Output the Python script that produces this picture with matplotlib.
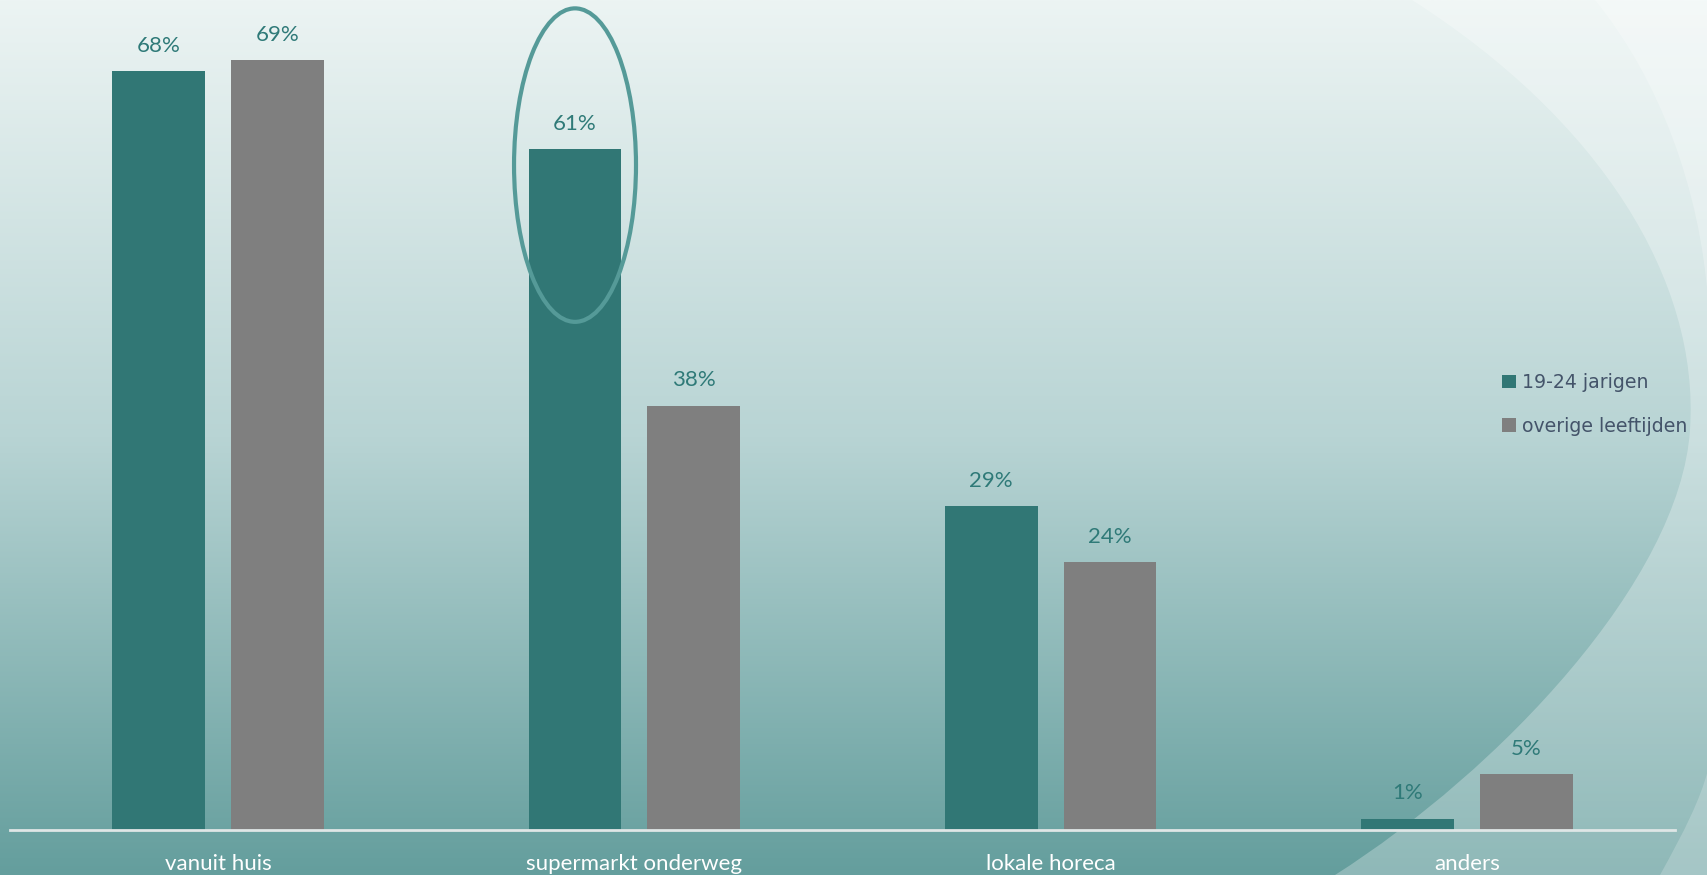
import numpy as np
import matplotlib.pyplot as plt
from matplotlib.patches import Ellipse, Patch, PathPatch
from matplotlib.path import Path

categories = ["vanuit huis", "supermarkt onderweg", "lokale horeca", "anders"]
jongeren = [68, 61, 29, 1]
overig = [69, 38, 24, 5]
reeks_namen = ["19-24 jarigen", "overige leeftijden"]

TEAL = "#317775"
GRIJS = "#7f7f7f"
LABEL_KLEUR = "#2f7a78"

plt.rcParams["font.family"] = ["Lato", "DejaVu Sans"]

W, H = 1708, 875
fig = plt.figure(figsize=(W / 100, H / 100), dpi=100)

# achtergrond: verticaal verloop + lichte golven rechts
bg = fig.add_axes([0, 0, 1, 1], zorder=0)
bg.set_xlim(0, W)
bg.set_ylim(H, 0)
bg.axis("off")
top = np.array([236, 244, 243]) / 255
mid = np.array([184, 212, 212]) / 255
bot = np.array([100, 158, 157]) / 255
t = np.linspace(0, 1, 400)[:, None]
grad = np.where(t < 0.5, top + (mid - top) * (t / 0.5), mid + (bot - mid) * ((t - 0.5) / 0.5))
bg.imshow(grad[:, None, :].repeat(2, axis=1), extent=[0, W, H, 0], aspect="auto")

golf = Path(
    [(1412, 0), (1600, 120), (1700, 280), (1690, 430),
     (1680, 580), (1500, 770), (1335, 875),
     (W, H), (W, 0), (1412, 0)],
    [Path.MOVETO, Path.CURVE4, Path.CURVE4, Path.CURVE4,
     Path.CURVE4, Path.CURVE4, Path.CURVE4,
     Path.LINETO, Path.LINETO, Path.CLOSEPOLY])
bg.add_patch(PathPatch(golf, facecolor="white", edgecolor="none", alpha=0.28))
golf2 = Path(
    [(1595, 0), (1660, 80), (1700, 190), (W, 300), (W, 0), (1595, 0)],
    [Path.MOVETO, Path.CURVE4, Path.CURVE4, Path.CURVE4, Path.LINETO, Path.CLOSEPOLY])
bg.add_patch(PathPatch(golf2, facecolor="white", edgecolor="none", alpha=0.25))
golf3 = Path(
    [(1660, H), (1685, 830), (1700, 800), (W, 770), (W, H), (1660, H)],
    [Path.MOVETO, Path.CURVE4, Path.CURVE4, Path.CURVE4, Path.LINETO, Path.CLOSEPOLY])
bg.add_patch(PathPatch(golf3, facecolor="white", edgecolor="none", alpha=0.2))

# grafiek
ax = fig.add_axes([10 / W, 45 / H, 1665 / W, 830 / H], zorder=1)
ax.patch.set_alpha(0)
x = np.arange(len(categories))
breedte = 0.2224
afstand = 0.1426

b1 = ax.bar(x - afstand, jongeren, breedte, color=TEAL, label=reeks_namen[0])
b2 = ax.bar(x + afstand, overig, breedte, color=GRIJS, label=reeks_namen[1])

for bars in (b1, b2):
    for rect in bars:
        v = rect.get_height()
        ax.annotate(f"{v:.0f}%", (rect.get_x() + rect.get_width() / 2, v),
                    xytext=(0, 18.5), textcoords="offset points",
                    ha="center", va="center", fontsize=16, color=LABEL_KLEUR)

# markering rond supermarkt onderweg
ax.add_patch(Ellipse((x[1] - afstand, jongeren[1] - 1.4), 0.293, 28.1,
                     fill=False, edgecolor="#559a98", linewidth=3, zorder=3))

ax.set_xlim(-0.5, len(categories) - 0.5)
ax.set_ylim(0, 74.4)
ax.set_yticks([])
ax.set_xticks(x)
ax.set_xticklabels(categories, fontsize=16, color="white")
ax.tick_params(axis="x", length=0, pad=17)
for s in ["top", "right", "left"]:
    ax.spines[s].set_visible(False)
ax.spines["bottom"].set_color("#dfe6e6")
ax.spines["bottom"].set_linewidth(2)

handles = [Patch(facecolor=TEAL), Patch(facecolor=GRIJS)]
ax.legend(handles, reeks_namen, loc="upper left",
          bbox_to_anchor=(1489 / W, 1 - 360 / H), bbox_transform=fig.transFigure,
          frameon=False, handlelength=0.72, handleheight=0.72, handletextpad=0.35,
          labelspacing=1.3, prop={"family": "DejaVu Sans", "size": 13.6},
          labelcolor="#44546a", borderpad=0.2)

fig.savefig("out.png", dpi=100)
